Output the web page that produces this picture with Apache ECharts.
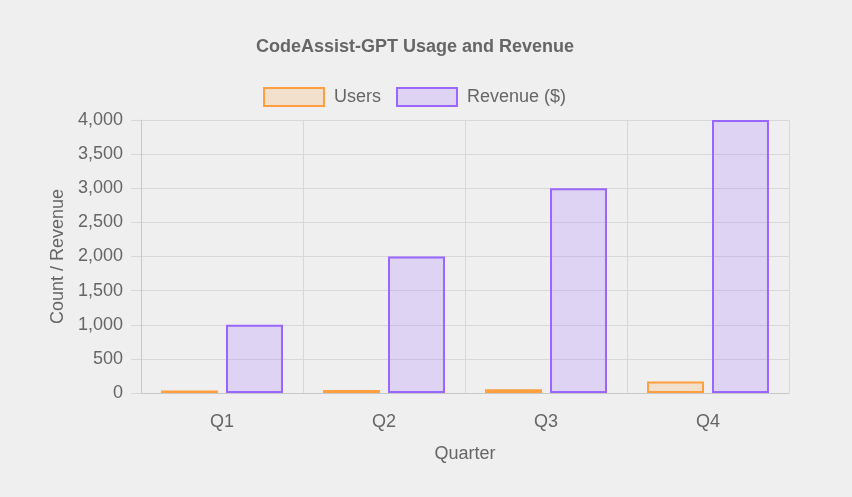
<!DOCTYPE html>
<html>
<head>
<meta charset="utf-8">
<script src="https://cdn.jsdelivr.net/npm/echarts@6/dist/echarts.min.js"></script>
<style>
  html, body { margin: 0; padding: 0; background: #efefef; }
  #chart { width: 852px; height: 497px; }
</style>
</head>
<body>
<div id="chart"></div>
<script>
// quarters on the x axis
var quarters = ['Q1', 'Q2', 'Q3', 'Q4'];
// values
var users = [35, 45, 55, 170];
var revenue = [1000, 2000, 3000, 4000];
var yTicks = { min: 0, max: 4000, interval: 500 };

var chart = echarts.init(document.getElementById('chart'));
var font = 'Liberation Sans, Arial, Helvetica, sans-serif';

var option = {
    backgroundColor: '#efefef',
    animation: false,
    textStyle: { fontFamily: font },
    title: {
        text: 'CodeAssist-GPT Usage and Revenue',
        left: 251,
        top: 33,
        textStyle: { fontSize: 18, fontWeight: 'bold', color: '#666', fontFamily: font }
    },
    legend: {
        left: 263,
        top: 87,
        padding: 0,
        icon: 'rect',
        itemWidth: 60,
        itemHeight: 18,
        itemGap: 15,
        textStyle: { fontSize: 18, color: '#666', padding: [0, 0, 0, 5] },
        data: ['Users', 'Revenue ($)']
    },
    grid: { left: 141, right: 63, top: 120, bottom: 104 },
    xAxis: {
        type: 'category',
        data: quarters,
        name: 'Quarter',
        nameLocation: 'middle',
        nameGap: 52,
        nameTextStyle: { fontSize: 18, color: '#666' },
        axisLine: { lineStyle: { color: '#c8c8c8' } },
        axisTick: { length: 10, lineStyle: { color: '#d8d8d8' } },
        axisLabel: { fontSize: 18, color: '#666', margin: 20 },
        splitLine: { show: true, lineStyle: { color: '#d8d8d8' } }
    },
    yAxis: {
        type: 'value',
        min: yTicks.min,
        max: yTicks.max,
        interval: yTicks.interval,
        name: 'Count / Revenue',
        nameLocation: 'middle',
        nameGap: 74,
        nameTextStyle: { fontSize: 18, color: '#666' },
        axisLine: { show: true, lineStyle: { color: '#c8c8c8' } },
        axisTick: { show: true, length: 10, lineStyle: { color: '#d8d8d8' } },
        axisLabel: {
            fontSize: 18,
            color: '#666',
            margin: 18,
            formatter: function (v) { return v.toLocaleString('en-US'); }
        },
        splitLine: { lineStyle: { color: '#d8d8d8' } }
    },
    series: [{
        name: 'Users',
        type: 'bar',
        data: users,
        barWidth: 57,
        barGap: '14%',
        itemStyle: {
            color: 'rgba(255, 159, 64, 0.2)',
            borderColor: 'rgb(255, 159, 64)',
            borderWidth: 2
        }
    }, {
        name: 'Revenue ($)',
        type: 'bar',
        data: revenue,
        barWidth: 57,
        itemStyle: {
            color: 'rgba(153, 102, 255, 0.2)',
            borderColor: 'rgb(153, 102, 255)',
            borderWidth: 2
        }
    }]
};
chart.setOption(option);
</script>
</body>
</html>
